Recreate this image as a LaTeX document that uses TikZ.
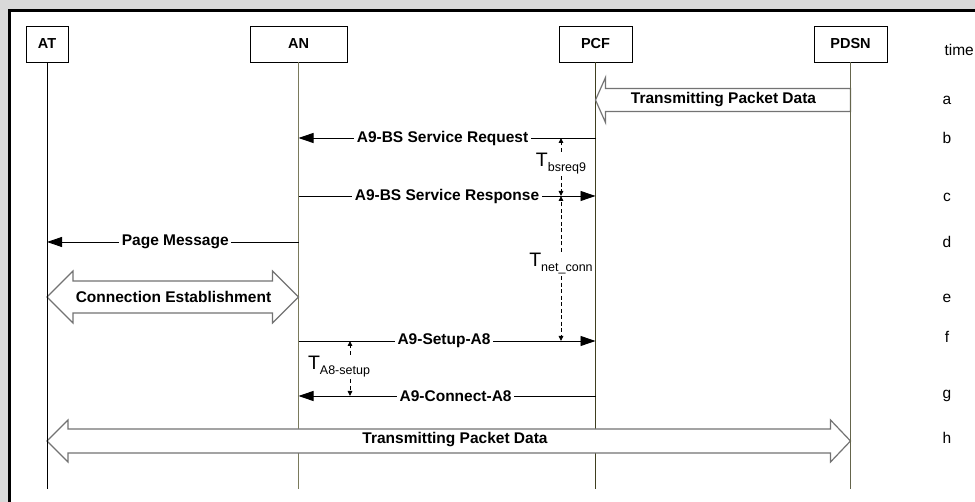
\documentclass[tikz,border=0pt]{standalone}
\usepackage{fontspec}
\setmainfont{Liberation Sans}
\usetikzlibrary{arrows.meta,calc}

\definecolor{margin}{HTML}{D9D9D9}
\definecolor{lifeAN}{HTML}{7A7A5C}
\definecolor{lifePCF}{HTML}{3F3F1F}
\definecolor{lifePDSN}{HTML}{65654C}
\definecolor{blockedge}{HTML}{737373}

% timer label: large T with a lowered subscript word
\newcommand\timerT[1]{{\fontsize{19.5}{20}\selectfont T}\raisebox{-5pt}{\fontsize{12.5}{13}\selectfont #1}}

\tikzset{
  entity/.style={draw=black, line width=0.9pt, fill=white, inner sep=0pt,
    minimum height=36pt, font=\fontsize{14.5}{16}\selectfont\bfseries},
  life/.style={line width=1.4pt},
  msg/.style={line width=0.9pt, -{Triangle[length=15pt,width=10pt]}},
  msglabel/.style={fill=white, inner sep=2.5pt, font=\fontsize{15.5}{17}\selectfont\bfseries},
  timer/.style={line width=0.9pt, dash pattern=on 4pt off 2.5pt,
    -{Triangle[length=5pt,width=4.5pt]}},
  timerlabel/.style={inner sep=1.5pt, anchor=base},
  blockarrow/.style={draw=blockedge, line width=1.2pt, fill=white, line join=miter},
  blocklabel/.style={font=\fontsize{15.5}{17}\selectfont\bfseries},
  tick/.style={font=\fontsize{15.5}{17}\selectfont},
}

\begin{document}
\begin{tikzpicture}[x=1pt, y=-1pt]
  \useasboundingbox (0,0) rectangle (975,502);
  \clip (0,0) rectangle (975,502);

  % page margin and frame
  \fill[margin] (0,0) rectangle (975,502);
  \fill[white] (9.5,10.5) rectangle (990,520);
  \draw[line width=3pt] (9.5,520) -- (9.5,10.5) -- (990,10.5);

  % entities
  \node[entity, minimum width=42pt] (AT)   at (47,44)    {AT};
  \node[entity, minimum width=97pt] (AN)   at (298.5,44) {AN};
  \node[entity, minimum width=73pt] (PCF)  at (595.5,44) {PCF};
  \node[entity, minimum width=73pt] (PDSN) at (850.5,44) {PDSN};

  % rows of the message sequence
  \coordinate (ra) at (0,100);
  \coordinate (rb) at (0,138);
  \coordinate (rc) at (0,196);
  \coordinate (rd) at (0,242);
  \coordinate (re) at (0,297);
  \coordinate (rf) at (0,341);
  \coordinate (rg) at (0,396);
  \coordinate (rh) at (0,441);
  \coordinate (bottom) at (0,489);

  % lifelines crossed by block arrows
  \draw[life, lifeAN]  (AN.south)  -- (AN |- bottom);
  \draw[life, lifePCF] (PCF.south) -- (PCF |- bottom);

  % a: packet data PDSN -> PCF
  \coordinate (aTip)  at (PCF |- ra);
  \coordinate (aTail) at (PDSN |- ra);
  \draw[blockarrow] (aTip) -- ($(aTip)+(10,-22.5)$) -- ($(aTip)+(10,-11.5)$)
    -- ($(aTail)+(0,-11.5)$) -- ($(aTail)+(0,11.5)$) -- ($(aTip)+(10,11.5)$)
    -- ($(aTip)+(10,22.5)$) -- cycle;
  \node[blocklabel] (aLab) at (723.5,100) {Transmitting Packet Data};

  % e: connection establishment AT <-> AN
  \coordinate (eL) at (AT |- re);
  \coordinate (eR) at (AN |- re);
  \draw[blockarrow] (eL) -- ($(eL)+(26,-26)$) -- ($(eL)+(26,-16)$)
    -- ($(eR)+(-26,-16)$) -- ($(eR)+(-26,-26)$) -- (eR)
    -- ($(eR)+(-26,26)$) -- ($(eR)+(-26,16)$) -- ($(eL)+(26,16)$)
    -- ($(eL)+(26,26)$) -- cycle;
  \node[blocklabel] (eLab) at (173.5,297) {Connection Establishment};

  % h: packet data AT <-> PDSN
  \coordinate (hL) at (AT |- rh);
  \coordinate (hR) at (PDSN |- rh);
  \draw[blockarrow] (hL) -- ($(hL)+(21,-21)$) -- ($(hL)+(21,-12)$)
    -- ($(hR)+(-20,-12)$) -- ($(hR)+(-20,-21)$) -- (hR)
    -- ($(hR)+(-20,21)$) -- ($(hR)+(-20,12)$) -- ($(hL)+(21,12)$)
    -- ($(hL)+(21,21)$) -- cycle;
  \node[blocklabel] (hLab) at (455,440) {Transmitting Packet Data};

  % outer lifelines
  \draw[line width=1pt, black] (AT.south) -- (AT |- bottom);
  \draw[life, lifePDSN] (PDSN.south) -- (PDSN |- bottom);

  % messages
  \draw[msg] (PCF |- rb) -- (AN |- rb)
    node[msglabel, pos=0.515] {A9-BS Service Request};
  \draw[msg] (AN |- rc) -- (PCF |- rc)
    node[msglabel, pos=0.5] {A9-BS Service Response};
  \draw[msg] (AN |- rd) -- (AT |- rd)
    node[msglabel, pos=0.49] {Page Message};
  \draw[msg] (AN |- rf) -- (PCF |- rf)
    node[msglabel, pos=0.49] {A9-Setup-A8};
  \draw[msg] (PCF |- rg) -- (AN |- rg)
    node[msglabel, pos=0.471] {A9-Connect-A8};

  % timers
  \node[timerlabel] (Tbs) at (561,167) {\timerT{bsreq9}};
  \draw[timer] (Tbs.north) -- (Tbs.north |- rb);
  \draw[timer] (Tbs.south) -- (Tbs.south |- rc);

  \node[timerlabel] (Tnc) at (561,267) {\timerT{net\_conn}};
  \draw[timer] (Tnc.north) -- (Tnc.north |- rc);
  \draw[timer] (Tnc.south) -- (Tnc.south |- rf);

  \coordinate (A8x) at (350,0);
  \node[timerlabel] (Ta8) at (339,370) {\timerT{A8-setup}};
  \draw[timer] (Ta8.north -| A8x) -- (A8x |- rf);
  \draw[timer] (Ta8.south -| A8x) -- (A8x |- rg);

  % time axis
  \node[tick, anchor=west] (time) at (941,50) {time};
  \node[tick] (ta) at (947,100) {a};
  \node[tick] (tb) at (947,138) {b};
  \node[tick] (tc) at (947,197) {c};
  \node[tick] (td) at (947,242) {d};
  \node[tick] (te) at (947,298) {e};
  \node[tick] (tf) at (947,337) {f};
  \node[tick] (tg) at (947,396) {g};
  \node[tick] (th) at (947,438) {h};
\end{tikzpicture}
\end{document}
